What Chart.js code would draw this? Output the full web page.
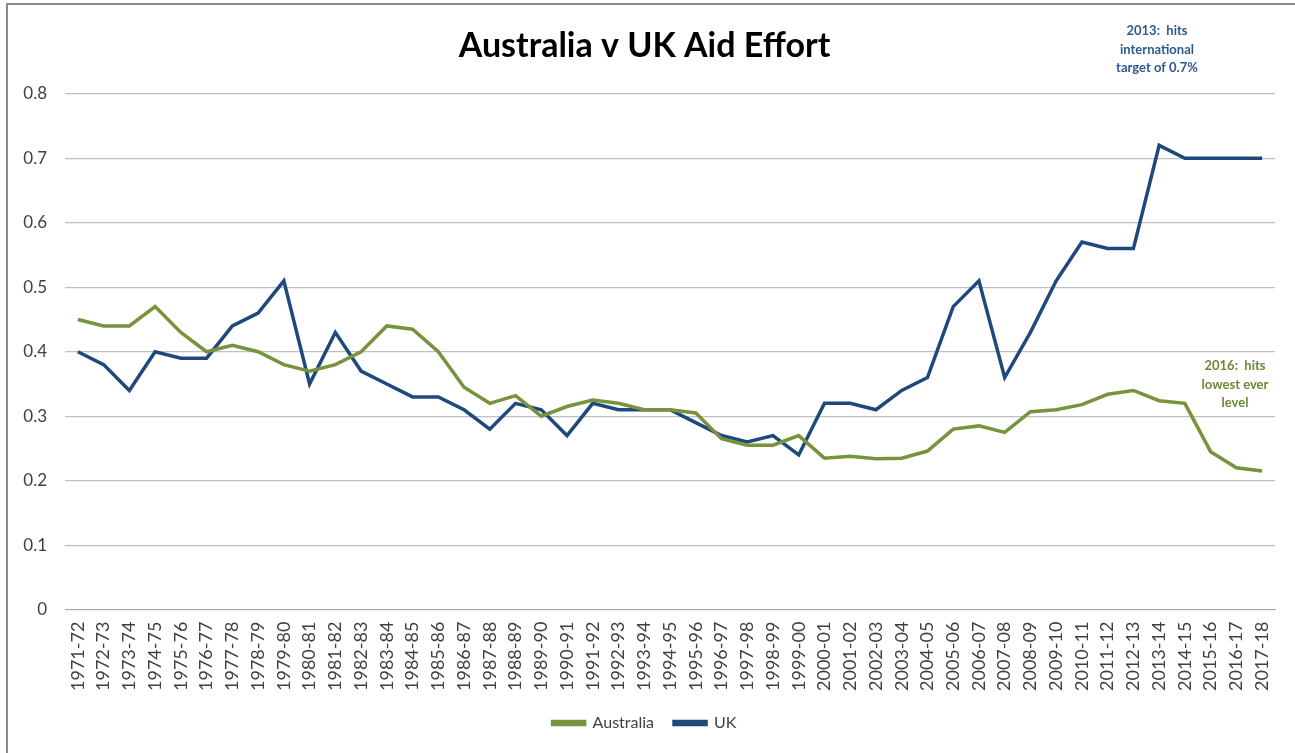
<!DOCTYPE html>
<html>
<head>
<meta charset="utf-8">
<script src="https://cdn.jsdelivr.net/npm/chart.js@4"></script>
<style>
  html, body { margin: 0; padding: 0; background: #fff; }
  #wrap { position: relative; width: 1295px; height: 753px; }
</style>
</head>
<body>
<div id="wrap"><canvas id="grafico" width="1295" height="753"></canvas></div>
<script>
// financial years
const years = [
  '1971-72', '1972-73', '1973-74', '1974-75', '1975-76', '1976-77', '1977-78', '1978-79',
  '1979-80', '1980-81', '1981-82', '1982-83', '1983-84', '1984-85', '1985-86', '1986-87',
  '1987-88', '1988-89', '1989-90', '1990-91', '1991-92', '1992-93', '1993-94', '1994-95',
  '1995-96', '1996-97', '1997-98', '1998-99', '1999-00', '2000-01', '2001-02', '2002-03',
  '2003-04', '2004-05', '2005-06', '2006-07', '2007-08', '2008-09', '2009-10', '2010-11',
  '2011-12', '2012-13', '2013-14', '2014-15', '2015-16', '2016-17', '2017-18'
];

// aid as % of GNI
const australia = [
  0.45, 0.44, 0.44, 0.47, 0.43, 0.40, 0.41, 0.40,
  0.38, 0.37, 0.38, 0.40, 0.44, 0.435, 0.40, 0.345,
  0.32, 0.332, 0.30, 0.315, 0.325, 0.32, 0.31, 0.31,
  0.305, 0.265, 0.255, 0.255, 0.27, 0.235, 0.238, 0.234,
  0.235, 0.246, 0.28, 0.285, 0.275, 0.307, 0.31, 0.318,
  0.334, 0.34, 0.324, 0.32, 0.245, 0.22, 0.215
];

const uk = [
  0.40, 0.38, 0.34, 0.40, 0.39, 0.39, 0.44, 0.46,
  0.51, 0.35, 0.43, 0.37, 0.35, 0.33, 0.33, 0.31,
  0.28, 0.32, 0.31, 0.27, 0.32, 0.31, 0.31, 0.31,
  0.29, 0.27, 0.26, 0.27, 0.24, 0.32, 0.32, 0.31,
  0.34, 0.36, 0.47, 0.51, 0.36, 0.43, 0.51, 0.57,
  0.56, 0.56, 0.72, 0.70, 0.70, 0.70, 0.70
];

const yTicks = [0, 0.1, 0.2, 0.3, 0.4, 0.5, 0.6, 0.7, 0.8];

const notes = [
  { lines: ['2013:  hits', 'international', 'target of 0.7%'], color: '#2e5a8c', x: 1157, y: 31 },
  { lines: ['2016:  hits', 'lowest ever', 'level'], color: '#6b8a35', x: 1235, y: 366 }
];

const corFundo = {
  id: 'corFundo',
  beforeDraw(chart) {
    const c = chart.ctx;
    c.save();
    c.fillStyle = '#fff';
    c.fillRect(0, 0, chart.width, chart.height);
    c.strokeStyle = '#8c8c8c';
    c.lineWidth = 2;
    c.strokeRect(7, 4, chart.width + 10, chart.height + 10);
    c.restore();
  },
  afterDraw(chart) {
    const c = chart.ctx;
    c.save();
    c.font = 'bold 13px Lato, "Open Sans", sans-serif';
    c.textAlign = 'center';
    c.textBaseline = 'middle';
    notes.forEach(n => {
      c.fillStyle = n.color;
      n.lines.forEach((l, i) => c.fillText(l, n.x, n.y + i * 18.5));
    });
    c.restore();
  }
};

const ctx = document.getElementById('grafico').getContext('2d');

let grafico = new Chart(ctx, {
  type: 'line',
  data: {
    labels: years,
    datasets: [
      {
        label: 'Australia',
        borderColor: '#77933c',
        backgroundColor: '#77933c',
        data: australia,
        borderWidth: 3.5,
        pointRadius: 0,
        tension: 0,
        fill: false
      },
      {
        label: 'UK',
        borderColor: '#1f497d',
        backgroundColor: '#1f497d',
        data: uk,
        borderWidth: 3.5,
        pointRadius: 0,
        tension: 0,
        fill: false
      }
    ]
  },
  options: {
    responsive: false,
    animation: false,
    layout: { padding: { left: 14, right: 20, top: 0, bottom: 12 } },
    plugins: {
      title: {
        display: true,
        text: 'Australia v UK Aid Effort',
        color: '#000',
        font: { family: 'Lato, "Open Sans", sans-serif', size: 34, weight: 'bold' },
        padding: { top: 26, bottom: 27 }
      },
      legend: {
        position: 'bottom',
        labels: {
          color: '#404040',
          font: { family: 'Lato, "Open Sans", sans-serif', size: 16 },
          boxWidth: 32,
          boxHeight: 3,
          padding: 20
        }
      },
      tooltip: { enabled: false }
    },
    scales: {
      x: {
        offset: true,
        grid: { display: false },
        border: { color: '#a6a6a6' },
        ticks: {
          color: '#404040',
          font: { family: 'Lato, "Open Sans", sans-serif', size: 18 },
          maxRotation: 90,
          minRotation: 90,
          autoSkip: false,
          padding: 4
        }
      },
      y: {
        min: 0,
        max: 0.8,
        afterBuildTicks(axis) {
          axis.ticks = yTicks.map(v => ({ value: v }));
        },
        afterFit(axis) { axis.width = 51; },
        grid: { color: '#c0c0c0', lineWidth: 1.2, drawTicks: false },
        border: { display: false },
        ticks: {
          color: '#404040',
          font: { family: 'Lato, "Open Sans", sans-serif', size: 17 },
          padding: 18,
          callback: v => String(Math.round(v * 10) / 10)
        }
      }
    }
  },
  plugins: [corFundo]
});
</script>
</body>
</html>
